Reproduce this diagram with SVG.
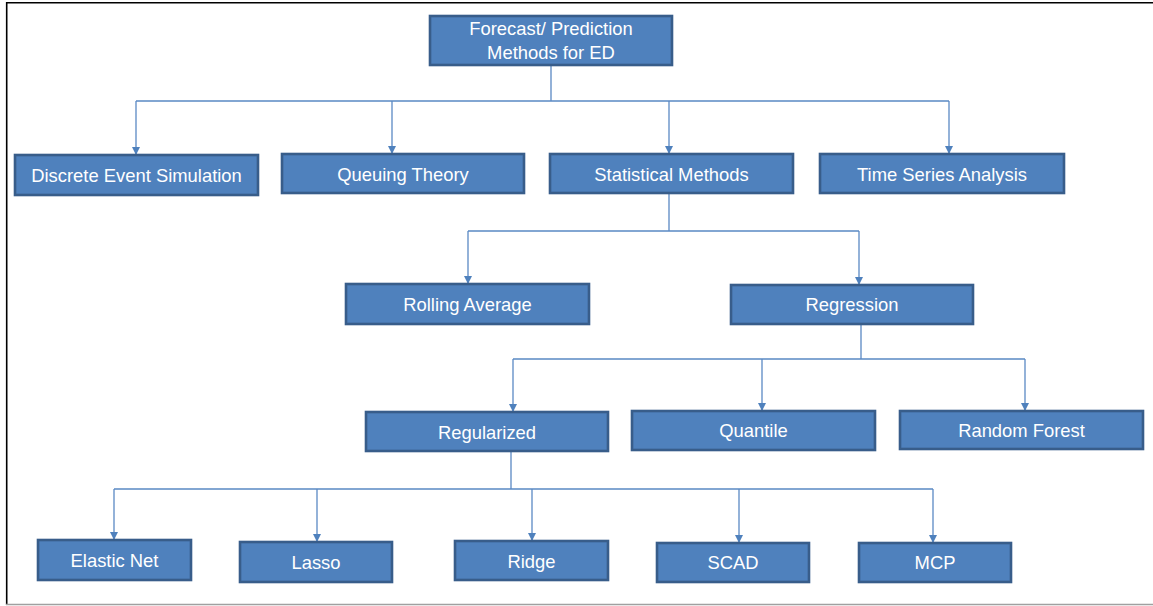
<svg xmlns="http://www.w3.org/2000/svg" width="1153" height="606" viewBox="0 0 1153 606">
  <defs>
    <marker id="arrow" markerUnits="userSpaceOnUse" markerWidth="10" markerHeight="8" refX="8" refY="4" orient="auto">
      <path d="M0,0 L8,4 L0,8 Z" fill="#4F81BD"/>
    </marker>
    <style>
      .box { fill: #4F81BD; stroke: #385D8A; stroke-width: 2.6; }
      .label { font-family: "Liberation Sans", Arial, sans-serif; font-size: 18.4px; fill: #FFFFFF; text-anchor: middle; }
      .link { fill: none; stroke: #5A89C4; stroke-width: 1.3; }
      .drop { fill: none; stroke: #5A89C4; stroke-width: 1.3; marker-end: url(#arrow); }
    </style>
  </defs>

  <rect width="1153" height="606" fill="#FFFFFF"/>

  <!-- page frame -->
  <g id="frame">
    <line x1="6" y1="2.7" x2="1153" y2="2.7" stroke="#000000" stroke-width="1.6"/>
    <line x1="6.7" y1="2" x2="6.7" y2="605" stroke="#000000" stroke-width="1.6"/>
    <line x1="6" y1="604.5" x2="1153" y2="604.5" stroke="#A0A0A0" stroke-width="1.5"/>
  </g>

  <!-- connectors -->
  <g id="connectors">
    <path class="link" d="M551,65 V101 M136,101 H949"/>
    <path class="drop" d="M136,101 V155"/>
    <path class="drop" d="M392,101 V154"/>
    <path class="drop" d="M669,101 V154"/>
    <path class="drop" d="M949,101 V154"/>

    <path class="link" d="M669,193 V231 M468,231 H859"/>
    <path class="drop" d="M468,231 V284"/>
    <path class="drop" d="M859,231 V285"/>

    <path class="link" d="M861,324 V359 M513,359 H1025"/>
    <path class="drop" d="M513,359 V412"/>
    <path class="drop" d="M762,359 V411"/>
    <path class="drop" d="M1025,359 V411"/>

    <path class="link" d="M511,451 V489 M114,489 H933"/>
    <path class="drop" d="M114,489 V540"/>
    <path class="drop" d="M317,489 V542"/>
    <path class="drop" d="M532,489 V541"/>
    <path class="drop" d="M739,489 V543"/>
    <path class="drop" d="M933,489 V543"/>
  </g>

  <!-- nodes -->
  <g id="forecast">
    <rect class="box" x="430" y="16" width="242" height="49"/>
    <text class="label" x="551" y="35">Forecast/ Prediction</text>
    <text class="label" x="551" y="59">Methods for ED</text>
  </g>
  <g id="discrete-event">
    <rect class="box" x="15" y="155" width="243" height="40"/>
    <text class="label" x="136.5" y="182">Discrete Event Simulation</text>
  </g>
  <g id="queuing">
    <rect class="box" x="282" y="154" width="242" height="39"/>
    <text class="label" x="403" y="180.5">Queuing Theory</text>
  </g>
  <g id="statistical">
    <rect class="box" x="550" y="154" width="243" height="39"/>
    <text class="label" x="671.5" y="180.5">Statistical Methods</text>
  </g>
  <g id="time-series">
    <rect class="box" x="820" y="154" width="244" height="39"/>
    <text class="label" x="942" y="180.5">Time Series Analysis</text>
  </g>
  <g id="rolling-average">
    <rect class="box" x="346" y="284" width="243" height="40"/>
    <text class="label" x="467.5" y="311">Rolling Average</text>
  </g>
  <g id="regression">
    <rect class="box" x="731" y="285" width="242" height="39"/>
    <text class="label" x="852" y="311">Regression</text>
  </g>
  <g id="regularized">
    <rect class="box" x="366" y="412" width="242" height="39"/>
    <text class="label" x="487" y="438.5">Regularized</text>
  </g>
  <g id="quantile">
    <rect class="box" x="632" y="411" width="243" height="39"/>
    <text class="label" x="753.5" y="437">Quantile</text>
  </g>
  <g id="random-forest">
    <rect class="box" x="900" y="411" width="243" height="38"/>
    <text class="label" x="1021.5" y="437">Random Forest</text>
  </g>
  <g id="elastic-net">
    <rect class="box" x="38" y="540" width="153" height="40"/>
    <text class="label" x="114.5" y="567">Elastic Net</text>
  </g>
  <g id="lasso">
    <rect class="box" x="240" y="542" width="152" height="40"/>
    <text class="label" x="316" y="569">Lasso</text>
  </g>
  <g id="ridge">
    <rect class="box" x="455" y="541" width="153" height="39"/>
    <text class="label" x="531.5" y="567.5">Ridge</text>
  </g>
  <g id="scad">
    <rect class="box" x="657" y="543" width="152" height="39"/>
    <text class="label" x="733" y="569">SCAD</text>
  </g>
  <g id="mcp">
    <rect class="box" x="859" y="543" width="152" height="39"/>
    <text class="label" x="935" y="569">MCP</text>
  </g>
</svg>
